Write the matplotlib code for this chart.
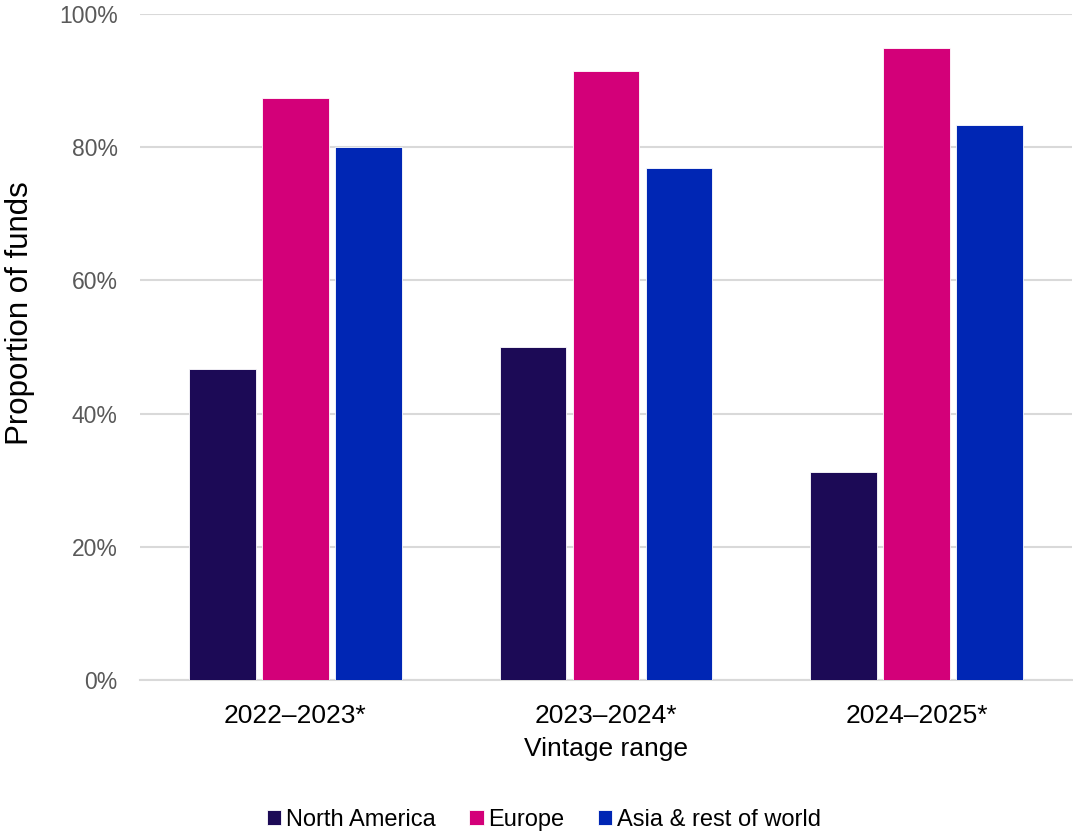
import numpy as np
import matplotlib
matplotlib.use("Agg")
import matplotlib.pyplot as plt
from matplotlib.ticker import PercentFormatter

plt.rcParams['font.family'] = ['Liberation Sans', 'DejaVu Sans']

vintages = ['2022–2023*', '2023–2024*', '2024–2025*']
north_america = [46.7, 50.0, 31.2]
europe = [87.4, 91.4, 94.9]
asia_row = [80.0, 76.9, 83.3]

series = [
    ('North America', north_america, '#1c0a56'),
    ('Europe', europe, '#d30079'),
    ('Asia & rest of world', asia_row, '#0026b4'),
]

fig = plt.figure(figsize=(10.73, 8.38), dpi=100)
ax = fig.add_axes([140 / 1073, 1 - 680 / 838, 932 / 1073, 666 / 838])

x = np.arange(len(vintages))
width = 0.215
step = 0.235
for i, (name, vals, col) in enumerate(series):
    ax.bar(x + (i - 1) * step, vals, width, color=col, label=name, zorder=3,
           edgecolor='white', linewidth=0.6)

ax.set_xlim(-0.5, 2.5)
ax.set_ylim(0, 100)
ax.set_yticks(np.arange(0, 101, 20))
ax.yaxis.set_major_formatter(PercentFormatter(decimals=0))
ax.grid(axis='y', color='#d9d9d9', linewidth=1.5, zorder=0)
for s in ['top', 'right', 'left']:
    ax.spines[s].set_visible(False)
ax.spines['bottom'].set_color('#d9d9d9')
ax.spines['bottom'].set_linewidth(1.5)

ax.set_xticks(x)
ax.set_xticklabels(vintages)
ax.tick_params(axis='x', length=0, labelsize=19, pad=17, labelcolor='black')
ax.tick_params(axis='y', length=0, labelsize=16.5, pad=16, labelcolor='#595959')

ax.set_xlabel('Vintage range', fontsize=19, labelpad=7)
ax.set_ylabel('Proportion of funds', fontsize=22.5)
ax.yaxis.set_label_coords(-0.113, 0.551)

fig.legend(loc='center', bbox_to_anchor=(544 / 1073, 18 / 838), ncol=3, frameon=False,
           fontsize=17, handlelength=0.6, handleheight=0.6, handletextpad=0.2,
           columnspacing=1.42)

fig.savefig('out.png', dpi=100)
